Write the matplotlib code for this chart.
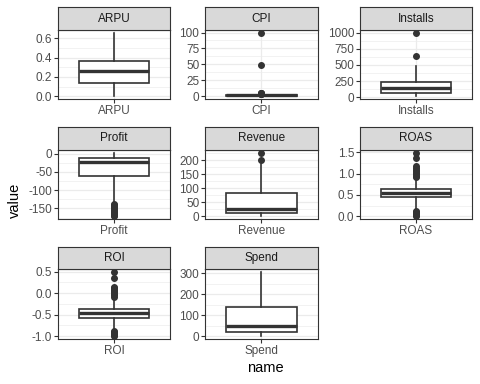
import matplotlib
matplotlib.use("Agg")
import matplotlib.pyplot as plt
from matplotlib.ticker import AutoMinorLocator

plt.rcParams['axes.unicode_minus'] = False
plt.rcParams['font.family'] = ['Liberation Sans', 'DejaVu Sans']

# facet names and box statistics
names = ["ARPU", "CPI", "Installs", "Profit", "Revenue", "ROAS", "ROI", "Spend"]
q1 = [0.14, 1.0, 57, -62, 12, 0.44, -0.57, 20]
med = [0.257, 1.4, 146, -24, 24, 0.55, -0.45, 47]
q3 = [0.37, 2.0, 233, -12, 84, 0.64, -0.37, 140]
whislo = [0.0, 0.3, 15, -135, 0, 0.16, -0.84, 1]
whishi = [0.655, 2.8, 481, 1, 185, 0.88, -0.12, 303]
fliers = [
    [],
    [99, 49, 6, 5.2, 4.5, 4, 3.5, 3.2],
    [994, 637],
    [-138, -140, -142, -145, -147, -150, -152, -155, -157, -160, -162, -165, -167, -169, -171],
    [225, 200],
    [1.48, 1.36, 1.18, 1.12, 1.08, 1.05, 1.02, 0.98, 0.95, 0.92,
     0.12, 0.1, 0.08, 0.06, 0.04, 0.02, 0.0],
    [0.48, 0.36, 0.15, 0.12, 0.08, 0.05, 0.02, -0.02, -0.05, -0.08,
     -0.88, -0.9, -0.92, -0.95, -0.97, -0.99],
    [],
]
yticks = [
    [0, 0.2, 0.4, 0.6],
    [0, 25, 50, 75, 100],
    [0, 250, 500, 750, 1000],
    [-150, -100, -50, 0],
    [0, 50, 100, 150, 200],
    [0, 0.5, 1.0, 1.5],
    [-1.0, -0.5, 0.0, 0.5],
    [0, 100, 200, 300],
]
ylabels = [
    ["0.0", "0.2", "0.4", "0.6"],
    ["0", "25", "50", "75", "100"],
    ["0", "250", "500", "750", "1000"],
    ["-150", "-100", "-50", "0"],
    ["0", "50", "100", "150", "200"],
    ["0.0", "0.5", "1.0", "1.5"],
    ["-1.0", "-0.5", "0.0", "0.5"],
    ["0", "100", "200", "300"],
]

W, H = 480, 384
col_l = [58, 205, 360]
col_r = [170, 317.7, 471.7]
row_t = [30, 150, 269.3]
row_b = [99.3, 219.3, 339]
strip_t = [7.3, 126.7, 246.7]

dark = '#333333'
fig = plt.figure(figsize=(4.8, 3.84), dpi=100)

for i, nm in enumerate(names):
    r, c = i // 3, i % 3
    ax = fig.add_axes([col_l[c]/W, 1 - row_b[r]/H, (col_r[c]-col_l[c])/W, (row_b[r]-row_t[r])/H])
    st = dict(med=med[i], q1=q1[i], q3=q3[i], whislo=whislo[i], whishi=whishi[i], fliers=fliers[i])
    ax.bxp([st], positions=[1], widths=0.75, showcaps=False, patch_artist=True,
           boxprops=dict(facecolor='white', edgecolor=dark, linewidth=1.2),
           medianprops=dict(color=dark, linewidth=2.4),
           whiskerprops=dict(color=dark, linewidth=1.2),
           flierprops=dict(marker='o', markerfacecolor=dark, markeredgecolor=dark, markersize=4.0))
    vals = [whislo[i], whishi[i]] + fliers[i]
    lo, hi = min(vals), max(vals)
    rng = hi - lo
    ax.set_ylim(lo - 0.05*rng, hi + 0.05*rng)
    ax.set_xlim(0.4, 1.6)
    ax.set_yticks(yticks[i])
    ax.set_yticklabels(ylabels[i])
    ax.set_xticks([1])
    ax.set_xticklabels([nm])
    ax.yaxis.set_minor_locator(AutoMinorLocator(2))
    ax.grid(which='major', color='#EBEBEB', linewidth=0.9)
    ax.grid(which='minor', axis='y', color='#EBEBEB', linewidth=0.45)
    ax.set_axisbelow(True)
    ax.tick_params(axis='both', which='major', length=2.6, width=0.8, color=dark,
                   labelsize=8.5, labelcolor='#4D4D4D', pad=1.5)
    ax.tick_params(axis='both', which='minor', length=0)
    for s in ax.spines.values():
        s.set_color(dark)
        s.set_linewidth(0.8)

    sax = fig.add_axes([col_l[c]/W, 1 - row_t[r]/H, (col_r[c]-col_l[c])/W, (row_t[r]-strip_t[r])/H])
    sax.set_facecolor('#D9D9D9')
    sax.set_xticks([])
    sax.set_yticks([])
    for s in sax.spines.values():
        s.set_color(dark)
        s.set_linewidth(0.8)
    sax.text(0.5, 0.5, nm, ha='center', va='center', fontsize=8.5, color='#1A1A1A',
             transform=sax.transAxes)

fig.text(15/W, 1 - 200/H, "value", rotation=90, ha='center', va='center', fontsize=10.5)
fig.text(265/W, 1 - 368/H, "name", ha='center', va='center', fontsize=10.5)

fig.savefig("out.png", dpi=100)
